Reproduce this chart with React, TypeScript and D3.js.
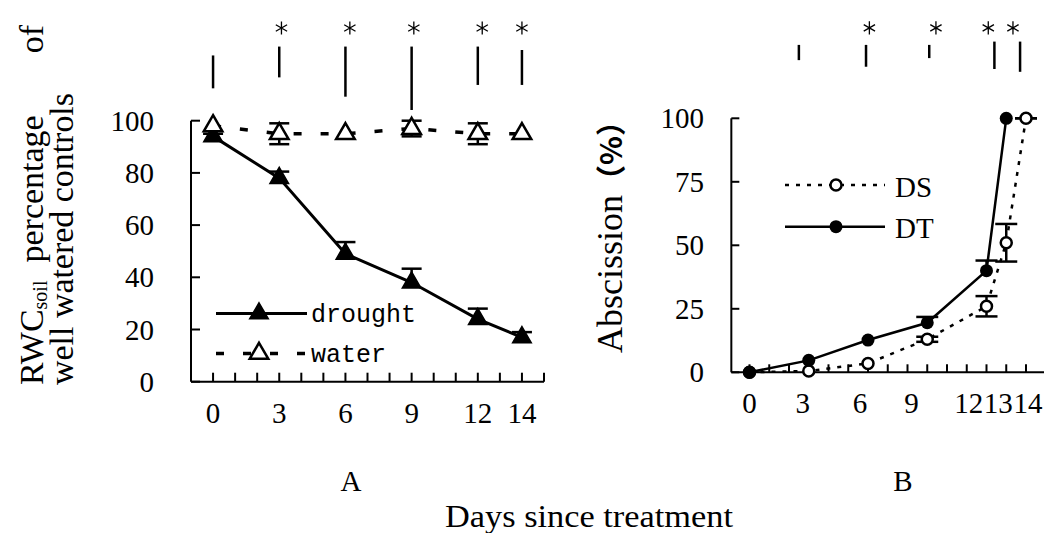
import React from 'react';
import * as d3 from 'd3';

// ---------- Panel A data ----------
const daysA = [0, 3, 6, 9, 12, 14];
const drought = [94, 78, 49, 38, 24, 17];
const droughtErr = [1, 2.5, 4.5, 5.3, 4, 2];
const water = [98, 95, 95, 97, 95, 95];
const waterErr = [0, 4, 0, 3, 4, 0];
const yTicksA = [0, 20, 40, 60, 80, 100];
const xTickLabelsA = [0, 3, 6, 9, 12, 14];
const minorTicksA = d3.range(0, 16);
// significance bars above panel A (in y-axis units, extended above 100)
const sigDaysA = [0, 3, 6, 9, 12, 14];
const sigTopA = [125, 128.4, 128.4, 128.4, 128.4, 127.1];
const sigBottomA = [112.4, 116.6, 109.2, 104.1, 113.7, 113.7];
const starDaysA = [3.1, 6.2, 9.1, 12.2, 14];
const starLevelA = 135.5;

// ---------- Panel B data ----------
const daysDS = [0, 3, 6, 9, 12, 13, 14];
const ds = [0, 0.5, 3.5, 13, 26, 51, 100];
const dsErr: (number | null)[] = [null, null, null, 1, 4, 7.4, 0];
const daysDT = [0, 3, 6, 9, 12, 13];
const dt = [0, 4.7, 12.7, 19.5, 40, 100];
const dtErr: (number | null)[] = [null, null, null, 2.3, 4, null];
const yTicksB = [0, 25, 50, 75, 100];
const xTickLabelsB = ['0', '3', '6', '9', '12', '13', '14'];
const xTickLabelPosB = [0, 2.7, 5.6, 8.2, 11.1, 12.6, 14.1];
const minorTicksB = d3.range(0, 16);
const sigDaysB = [2.5, 5.9, 9.1, 12.4, 13.7];
const sigTopB = [128.9, 128.9, 128.9, 130.2, 130.2];
const sigBottomB = [122.9, 120.3, 123.7, 119.4, 118.3];
const starDaysB = [6.07, 9.44, 12.09, 13.34];
const starLevelB = 135.6;

export default function App() {
  const W = 1044, H = 533;
  const serif = "'Liberation Serif', 'Times New Roman', serif";
  const mono = "'Liberation Mono', 'Courier New', monospace";

  const xA = d3.scaleLinear().domain([-1, 15]).range([191, 544]);
  const yA = d3.scaleLinear().domain([0, 100]).range([381.7, 120.7]);
  const xB = d3.scaleLinear().domain([0, 14]).range([749.5, 1026]);
  const yB = d3.scaleLinear().domain([0, 100]).range([372.3, 118.3]);

  const tri = d3.symbol(d3.symbolTriangle).size(150)() as string;
  const star = d3.symbol(d3.symbolAsterisk).size(120)() as string;

  const lineA = (vals: number[]) =>
    d3.line<number>().x((_, i) => xA(daysA[i])).y((v) => yA(v))(vals) as string;
  const lineB = (days: number[], vals: number[]) =>
    d3.line<number>().x((_, i) => xB(days[i])).y((v) => yB(v))(vals) as string;

  const capW = 20;
  const fs = 29;

  return (
    <svg width={W} height={H} style={{ position: 'absolute', left: 0, top: 0, background: '#fff' }}>
      <rect width={W} height={H} fill="#fff" />

      {/* ================= Panel A ================= */}
      <line x1={xA(-1)} x2={xA(-1)} y1={yA(0)} y2={yA(100)} stroke="#000" strokeWidth={2} />
      {yTicksA.map((t) => (
        <g key={'ya' + t}>
          <line x1={xA(-1)} x2={xA(-1) + 9} y1={yA(t)} y2={yA(t)} stroke="#000" strokeWidth={2} />
          <text x={154} y={yA(t) + 10} textAnchor="end" fontFamily={serif} fontSize={fs}>{t}</text>
        </g>
      ))}
      <line x1={xA(-1)} x2={xA(15)} y1={yA(0)} y2={yA(0)} stroke="#000" strokeWidth={2} />
      {minorTicksA.map((t) => (
        <line key={'xa' + t} x1={xA(t)} x2={xA(t)} y1={yA(0)} y2={yA(0) - 9} stroke="#000" strokeWidth={2} />
      ))}
      {xTickLabelsA.map((t) => (
        <text key={'xal' + t} x={xA(t)} y={423} textAnchor="middle" fontFamily={serif} fontSize={fs}>{t}</text>
      ))}

      {/* significance bars A */}
      {sigDaysA.map((d, i) => (
        <line key={'sa' + i} x1={xA(d)} x2={xA(d)} y1={yA(sigTopA[i])} y2={yA(sigBottomA[i])} stroke="#000" strokeWidth={2.5} />
      ))}
      {starDaysA.map((d, i) => (
        <path key={'sta' + i} d={star} transform={`translate(${xA(d)},${yA(starLevelA)})`} stroke="#000" strokeWidth={1.3} fill="none" />
      ))}

      {/* water line */}
      <path d={lineA(water)} fill="none" stroke="#000" strokeWidth={3.5} strokeDasharray="8,19" />
      {/* drought line */}
      <path d={lineA(drought)} fill="none" stroke="#000" strokeWidth={3} />
      {/* error bars */}
      {drought.map((v, i) => (
        <g key={'dea' + i}>
          <line x1={xA(daysA[i])} x2={xA(daysA[i])} y1={yA(v)} y2={yA(v + droughtErr[i])} stroke="#000" strokeWidth={2.5} />
          <line x1={xA(daysA[i]) - capW / 2} x2={xA(daysA[i]) + capW / 2} y1={yA(v + droughtErr[i])} y2={yA(v + droughtErr[i])} stroke="#000" strokeWidth={2.5} />
        </g>
      ))}
      {water.map((v, i) =>
        waterErr[i] > 0 ? (
          <g key={'wea' + i}>
            <line x1={xA(daysA[i])} x2={xA(daysA[i])} y1={yA(v - waterErr[i])} y2={yA(v + waterErr[i])} stroke="#000" strokeWidth={2.5} />
            <line x1={xA(daysA[i]) - capW / 2} x2={xA(daysA[i]) + capW / 2} y1={yA(v + waterErr[i])} y2={yA(v + waterErr[i])} stroke="#000" strokeWidth={2.5} />
            <line x1={xA(daysA[i]) - capW / 2} x2={xA(daysA[i]) + capW / 2} y1={yA(v - waterErr[i])} y2={yA(v - waterErr[i])} stroke="#000" strokeWidth={2.5} />
          </g>
        ) : null
      )}
      {drought.map((v, i) => (
        <path key={'dma' + i} d={tri} transform={`translate(${xA(daysA[i])},${yA(v)})`} fill="#000" stroke="#000" strokeWidth={1.5} />
      ))}
      {water.map((v, i) => (
        <path key={'wma' + i} d={tri} transform={`translate(${xA(daysA[i])},${yA(v)})`} fill="#fff" stroke="#000" strokeWidth={2.5} />
      ))}

      {/* legend A */}
      <line x1={216} x2={307} y1={313.5} y2={313.5} stroke="#000" strokeWidth={3} />
      <path d={tri} transform="translate(259,313.5)" fill="#000" stroke="#000" strokeWidth={1.5} />
      <text x={311} y={322} fontFamily={mono} fontSize={25}>drought</text>
      <line x1={216} x2={307} y1={353.5} y2={353.5} stroke="#000" strokeWidth={3.5} strokeDasharray="8,19" />
      <path d={tri} transform="translate(259,353.5)" fill="#fff" stroke="#000" strokeWidth={2.5} />
      <text x={311} y={362} fontFamily={mono} fontSize={25}>water</text>

      {/* y label A */}
      <text transform="translate(43,385) rotate(-90)" fontFamily={serif} fontSize={34}>
        <tspan>RWC</tspan>
        <tspan fontSize={20} dy={4}>soil</tspan>
        <tspan dy={-4} dx={18}>percentage</tspan>
        <tspan dx={62}>of</tspan>
      </text>
      <text transform="translate(73,385) rotate(-90)" fontFamily={serif} fontSize={34} textLength={292} lengthAdjust="spacingAndGlyphs">
        well watered controls
      </text>

      {/* ================= Panel B ================= */}
      <line x1={xB(-0.92)} x2={xB(-0.92)} y1={yB(0)} y2={yB(100)} stroke="#000" strokeWidth={2} />
      {yTicksB.map((t) => (
        <g key={'yb' + t}>
          <line x1={xB(-0.92)} x2={xB(-0.92) + 8} y1={yB(t)} y2={yB(t)} stroke="#000" strokeWidth={2} />
          <text x={704} y={yB(t) + 10} textAnchor="end" fontFamily={serif} fontSize={fs}>{t}</text>
        </g>
      ))}
      <line x1={xB(-0.92)} x2={xB(15)} y1={yB(0)} y2={yB(0)} stroke="#000" strokeWidth={2} />
      {minorTicksB.map((t) => (
        <line key={'xb' + t} x1={xB(t)} x2={xB(t)} y1={yB(0)} y2={yB(0) - 8} stroke="#000" strokeWidth={2} />
      ))}
      {xTickLabelsB.map((t, i) => (
        <text key={'xbl' + t} x={xB(xTickLabelPosB[i])} y={413} textAnchor="middle" fontFamily={serif} fontSize={fs}>{t}</text>
      ))}

      {/* significance bars B */}
      {sigDaysB.map((d, i) => (
        <line key={'sb' + i} x1={xB(d)} x2={xB(d)} y1={yB(sigTopB[i])} y2={yB(sigBottomB[i])} stroke="#000" strokeWidth={2.5} />
      ))}
      {starDaysB.map((d, i) => (
        <path key={'stb' + i} d={star} transform={`translate(${xB(d)},${yB(starLevelB)})`} stroke="#000" strokeWidth={1.3} fill="none" />
      ))}

      {/* lines */}
      <path d={lineB(daysDS, ds)} fill="none" stroke="#000" strokeWidth={2.5} strokeDasharray="4,7" />
      <path d={lineB(daysDT, dt)} fill="none" stroke="#000" strokeWidth={2.5} />
      {ds.map((v, i) => {
        const e = dsErr[i];
        if (e === null) return null;
        const x = xB(daysDS[i]);
        return (
          <g key={'dseb' + i}>
            <line x1={x} x2={x} y1={yB(v - e)} y2={yB(v + e)} stroke="#000" strokeWidth={2.5} />
            <line x1={x - 11} x2={x + 11} y1={yB(v + e)} y2={yB(v + e)} stroke="#000" strokeWidth={2.5} />
            <line x1={x - 11} x2={x + 11} y1={yB(v - e)} y2={yB(v - e)} stroke="#000" strokeWidth={2.5} />
          </g>
        );
      })}
      {dt.map((v, i) => {
        const e = dtErr[i];
        if (e === null) return null;
        const x = xB(daysDT[i]);
        return (
          <g key={'dteb' + i}>
            <line x1={x} x2={x} y1={yB(v)} y2={yB(v + e)} stroke="#000" strokeWidth={2.5} />
            <line x1={x - 11} x2={x + 11} y1={yB(v + e)} y2={yB(v + e)} stroke="#000" strokeWidth={2.5} />
          </g>
        );
      })}
      {ds.map((v, i) => (
        <circle key={'dsm' + i} cx={xB(daysDS[i])} cy={yB(v)} r={5.5} fill="#fff" stroke="#000" strokeWidth={2.5} />
      ))}
      {dt.map((v, i) => (
        <circle key={'dtm' + i} cx={xB(daysDT[i])} cy={yB(v)} r={6.5} fill="#000" />
      ))}

      {/* legend B */}
      <line x1={785} x2={885} y1={185} y2={185} stroke="#000" strokeWidth={2.5} strokeDasharray="4,7" />
      <circle cx={836} cy={185} r={5.5} fill="#fff" stroke="#000" strokeWidth={2.5} />
      <text x={895} y={197} fontFamily={serif} fontSize={fs}>DS</text>
      <line x1={785} x2={885} y1={226.7} y2={226.7} stroke="#000" strokeWidth={2.5} />
      <circle cx={836} cy={226.7} r={6.5} fill="#000" />
      <text x={895} y={238} fontFamily={serif} fontSize={fs}>DT</text>

      {/* y label B */}
      <text transform="translate(622,353) rotate(-90)" fontFamily={serif} fontSize={36}>
        Abscission<tspan fontFamily="'Noto Sans CJK SC', sans-serif" fontSize={30} fontWeight={700}>（%）</tspan>
      </text>

      {/* panel letters and common x label */}
      <text x={351} y={491} textAnchor="middle" fontFamily={serif} fontSize={29}>A</text>
      <text x={903} y={491} textAnchor="middle" fontFamily={serif} fontSize={29}>B</text>
      <text x={445} y={527} fontFamily={serif} fontSize={32} textLength={288} lengthAdjust="spacingAndGlyphs">
        Days since treatment
      </text>
    </svg>
  );
}
